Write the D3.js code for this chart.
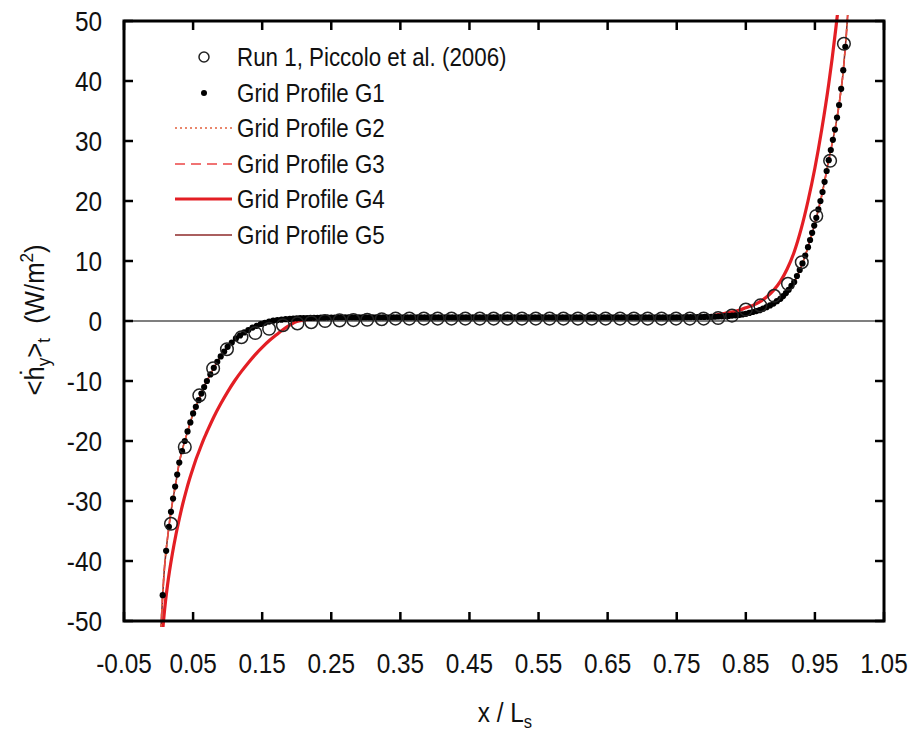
<!DOCTYPE html>
<html><head><meta charset="utf-8">
<script src="https://cdn.jsdelivr.net/npm/d3@7"></script>
<style>body{margin:0;background:#fff}</style>
</head><body>
<script>
// ---------- DATA ----------
const xTickValues = [-0.05,0.05,0.15,0.25,0.35,0.45,0.55,0.65,0.75,0.85,0.95,1.05];
const xTickLabels = ["-0.05","0.05","0.15","0.25","0.35","0.45","0.55","0.65","0.75","0.85","0.95","1.05"];
const yTickValues = [-50,-40,-30,-20,-10,0,10,20,30,40,50];
const yTickLabels = ["-50","-40","-30","-20","-10","0","10","20","30","40","50"];
const seriesNames = ["Run 1, Piccolo et al. (2006)","Grid Profile G1","Grid Profile G2","Grid Profile G3","Grid Profile G4","Grid Profile G5"];

// Run 1, Piccolo et al. (2006) — open circles
const piccoloX = [0.018,0.038,0.059,0.079,0.099,0.120,0.140,0.160,0.180,0.201,0.221,0.241,0.262,0.282,0.302,0.323,0.343,0.363,0.384,0.404,0.424,0.444,0.465,0.485,0.505,0.526,0.546,0.566,0.586,0.607,0.627,0.647,0.668,0.688,0.708,0.728,0.749,0.769,0.789,0.810,0.830,0.850,0.871,0.891,0.911,0.931,0.952,0.972,0.992];
const piccoloY = [-33.8,-21.0,-12.4,-7.9,-4.7,-2.7,-2.0,-1.3,-0.7,-0.4,-0.2,0.0,0.1,0.15,0.2,0.3,0.4,0.4,0.4,0.4,0.4,0.4,0.4,0.4,0.4,0.4,0.4,0.4,0.4,0.4,0.4,0.4,0.4,0.4,0.4,0.4,0.4,0.4,0.4,0.5,0.9,1.9,2.6,4.2,6.2,9.8,17.5,26.7,46.2];

// Grid Profile G1 — filled dots
const g1X = [0.006,0.011,0.015,0.018,0.021,0.024,0.027,0.030,0.034,0.038,0.042,0.046,0.050,0.054,0.058,0.062,0.066,0.070,0.075,0.080,0.085,0.090,0.095,0.100,0.106,0.112,0.118,0.124,0.130,0.136,0.142,0.148,0.154,0.160,0.166,0.172,0.178,0.184,0.190,0.195,
0.200,0.205,0.210,0.215,0.220,0.225,0.230,0.235,0.240,0.245,0.250,0.255,0.260,0.265,0.270,0.275,0.280,0.285,0.290,0.295,
0.300,0.305,0.310,0.315,0.320,0.325,0.330,0.335,0.340,0.345,0.350,0.355,0.360,0.365,0.370,0.375,0.380,0.385,0.390,0.395,
0.400,0.405,0.410,0.415,0.420,0.425,0.430,0.435,0.440,0.445,0.450,0.455,0.460,0.465,0.470,0.475,0.480,0.485,0.490,0.495,
0.500,0.505,0.510,0.515,0.520,0.525,0.530,0.535,0.540,0.545,0.550,0.555,0.560,0.565,0.570,0.575,0.580,0.585,0.590,0.595,
0.600,0.605,0.610,0.615,0.620,0.625,0.630,0.635,0.640,0.645,0.650,0.655,0.660,0.665,0.670,0.675,0.680,0.685,0.690,0.695,
0.700,0.705,0.710,0.715,0.720,0.725,0.730,0.735,0.740,0.745,0.750,0.755,0.760,0.765,0.770,0.775,0.780,0.785,0.790,0.795,
0.800,0.805,0.810,0.815,0.820,0.825,0.830,0.835,0.840,0.845,0.850,0.855,0.860,0.865,0.870,0.875,0.880,0.885,0.890,0.895,
0.900,0.904,0.908,0.912,0.916,0.920,0.924,0.928,0.932,0.936,0.940,0.943,0.946,0.949,0.952,0.955,0.958,0.961,0.964,0.967,
0.970,0.973,0.976,0.979,0.982,0.985,0.988,0.991,0.994];
const g1Y = [-45.7,-38.3,-34.3,-31.8,-29.6,-27.6,-25.6,-23.6,-21.7,-20.0,-18.4,-16.9,-15.4,-14.3,-13.2,-12.1,-11.0,-10.0,-8.9,-7.8,-6.8,-5.9,-5.1,-4.3,-3.6,-2.9,-2.4,-1.9,-1.5,-1.1,-0.8,-0.5,-0.3,-0.1,0.05,0.15,0.22,0.3,0.35,0.4,
0.45,0.47,0.49,0.50,0.52,0.53,0.54,0.55,0.56,0.57,0.58,0.58,0.58,0.59,0.59,0.59,0.59,0.6,0.6,0.6,
0.6,0.6,0.6,0.6,0.6,0.6,0.6,0.6,0.6,0.6,0.6,0.6,0.6,0.6,0.6,0.6,0.6,0.6,0.6,0.6,
0.6,0.6,0.6,0.6,0.6,0.6,0.6,0.6,0.6,0.6,0.6,0.6,0.6,0.6,0.6,0.6,0.6,0.6,0.6,0.6,
0.6,0.6,0.6,0.6,0.6,0.6,0.6,0.6,0.6,0.6,0.6,0.6,0.6,0.6,0.6,0.6,0.6,0.6,0.6,0.6,
0.6,0.6,0.6,0.6,0.6,0.6,0.6,0.6,0.6,0.6,0.6,0.6,0.6,0.6,0.6,0.6,0.6,0.6,0.6,0.6,
0.6,0.6,0.6,0.6,0.6,0.6,0.6,0.6,0.6,0.6,0.6,0.61,0.62,0.63,0.64,0.65,0.66,0.67,0.68,0.69,
0.70,0.72,0.75,0.78,0.80,0.85,0.90,0.95,1.00,1.10,1.20,1.35,1.50,1.65,1.80,2.05,2.30,2.60,2.90,3.30,
3.70,4.15,4.65,5.2,5.85,6.5,7.5,8.5,9.6,10.9,12.3,13.5,14.7,15.9,17.2,18.6,20.0,21.5,23.2,25.0,
26.8,28.5,30.2,31.9,33.9,36.0,38.7,41.8,45.7];

// Grid profiles G2..G5 — lines
const lineX = [0.002,0.004,0.006,0.008,0.010,0.013,0.016,0.020,0.025,0.030,0.035,0.040,0.045,0.050,0.055,0.060,0.065,0.070,0.080,0.090,0.100,0.110,0.120,0.130,0.140,0.150,0.160,0.170,0.180,0.190,0.200,0.220,0.250,0.300,0.350,0.400,0.450,0.500,0.550,0.600,0.650,0.700,0.750,0.780,0.800,0.820,0.840,0.850,0.860,0.870,0.880,0.890,0.900,0.910,0.920,0.930,0.940,0.950,0.960,0.970,0.975,0.980,0.984,0.988,0.990,0.993,0.995,0.998];
const g2Y = [-55,-50,-45.7,-42,-39.3,-36.2,-33.4,-30.3,-27.0,-23.6,-21.2,-19.2,-17.3,-15.4,-14.0,-12.6,-11.2,-10.0,-7.8,-5.9,-4.3,-3.1,-2.2,-1.5,-0.9,-0.45,-0.1,0.1,0.25,0.35,0.45,0.52,0.58,0.6,0.6,0.6,0.6,0.6,0.6,0.6,0.6,0.6,0.6,0.65,0.7,0.8,1.0,1.2,1.5,1.8,2.3,2.9,3.7,4.9,6.5,9.0,12.3,16.3,21.0,26.8,29.6,32.5,35.3,38.7,40.5,44.3,47.0,52.0];
const g3Y = [-55,-50,-45.7,-42,-39.3,-36.2,-33.4,-30.3,-27.0,-23.6,-21.2,-19.2,-17.3,-15.4,-14.0,-12.6,-11.2,-10.0,-7.8,-5.9,-4.3,-3.1,-2.2,-1.5,-0.9,-0.45,-0.1,0.1,0.25,0.35,0.45,0.52,0.58,0.6,0.6,0.6,0.6,0.6,0.6,0.6,0.6,0.6,0.6,0.65,0.7,0.8,1.0,1.2,1.5,1.8,2.3,2.9,3.7,4.9,6.5,9.0,12.3,16.3,21.0,26.8,29.6,32.5,35.3,38.7,40.5,44.3,47.0,52.0];
const g4Y = [-59,-54.8,-51.6,-49.0,-46.8,-44.0,-41.6,-38.8,-35.7,-33.0,-30.5,-28.3,-26.3,-24.5,-22.8,-21.3,-19.8,-18.5,-16.0,-13.8,-11.8,-10.0,-8.4,-6.95,-5.6,-4.4,-3.3,-2.35,-1.45,-0.7,-0.1,0.3,0.5,0.58,0.6,0.6,0.6,0.6,0.6,0.6,0.6,0.6,0.6,0.7,0.9,1.3,1.8,2.2,2.6,3.2,4.0,5.1,6.6,8.7,11.5,15.3,20.0,25.5,32.0,39.5,43.8,48.5,52.5,57.0,60.0,64.0,67.0,72.0];
const g5Y = [-55,-50,-45.7,-42,-39.3,-36.2,-33.4,-30.3,-27.0,-23.6,-21.2,-19.2,-17.3,-15.4,-14.0,-12.6,-11.2,-10.0,-7.8,-5.9,-4.3,-3.1,-2.2,-1.5,-0.9,-0.45,-0.1,0.1,0.25,0.35,0.45,0.52,0.58,0.6,0.6,0.6,0.6,0.6,0.6,0.6,0.6,0.6,0.6,0.65,0.7,0.8,1.0,1.2,1.5,1.8,2.3,2.9,3.7,4.9,6.5,9.0,12.3,16.3,21.0,26.8,29.6,32.5,35.3,38.7,40.5,44.3,47.0,52.0];

// ---------- CHART ----------
const W = 912, H = 734;
const M = {left:124, right:884, top:21, bottom:621};
const FONT = "'Liberation Sans Narrow','Arial Narrow','Liberation Sans',Arial,sans-serif";
const SQ = 0.87; // horizontal condensation of the narrow Helvetica-like font

const svg = d3.select("body").append("svg").attr("width",W).attr("height",H)
  .style("font-family",FONT);
svg.append("rect").attr("width",W).attr("height",H).attr("fill","#fff");

const x = d3.scaleLinear().domain([-0.05,1.05]).range([M.left,M.right]);
const y = d3.scaleLinear().domain([-50,50]).range([M.bottom,M.top]);

svg.append("defs").append("clipPath").attr("id","clip")
  .append("rect").attr("x",M.left).attr("y",M.top-6).attr("width",M.right-M.left).attr("height",M.bottom-M.top+12);

// zero line
svg.append("line").attr("x1",M.left).attr("x2",M.right).attr("y1",y(0)).attr("y2",y(0))
  .attr("stroke","#000").attr("stroke-width",1.2);

const plot = svg.append("g").attr("clip-path","url(#clip)");
const line = (ys)=> d3.line().x((d,i)=>x(lineX[i])).y((d,i)=>y(ys[i])).curve(d3.curveMonotoneX)(ys);

const styles = {
  G2:{stroke:"#e2603c", width:1.6, dash:"2,3"},
  G3:{stroke:"#ec4646", width:1.6, dash:"10,6"},
  G4:{stroke:"#e31e24", width:3.2, dash:null},
  G5:{stroke:"#8e2a2a", width:1.6, dash:null}
};
plot.append("path").attr("d",line(g4Y)).attr("fill","none")
  .attr("stroke",styles.G4.stroke).attr("stroke-width",styles.G4.width);
plot.append("path").attr("d",line(g5Y)).attr("fill","none")
  .attr("stroke",styles.G5.stroke).attr("stroke-width",styles.G5.width);
plot.append("path").attr("d",line(g3Y)).attr("fill","none")
  .attr("stroke",styles.G3.stroke).attr("stroke-width",styles.G3.width).attr("stroke-dasharray",styles.G3.dash);
plot.append("path").attr("d",line(g2Y)).attr("fill","none")
  .attr("stroke",styles.G2.stroke).attr("stroke-width",styles.G2.width).attr("stroke-dasharray",styles.G2.dash);

// G1 dots
plot.append("g").selectAll("circle").data(g1X).join("circle")
  .attr("cx",(d,i)=>x(g1X[i])).attr("cy",(d,i)=>y(g1Y[i])).attr("r",3.1)
  .attr("fill","#000");

// Piccolo circles
plot.append("g").selectAll("circle").data(piccoloX).join("circle")
  .attr("cx",(d,i)=>x(piccoloX[i])).attr("cy",(d,i)=>y(piccoloY[i])).attr("r",6.3)
  .attr("fill","none").attr("stroke","#222").attr("stroke-width",1.5);

// frame
svg.append("rect").attr("x",M.left).attr("y",M.top).attr("width",M.right-M.left).attr("height",M.bottom-M.top)
  .attr("fill","none").attr("stroke","#000").attr("stroke-width",3);

// ticks (inward on all four sides)
const TL = 9;
const ax = svg.append("g").attr("stroke","#000").attr("stroke-width",2.5);
xTickValues.forEach(v=>{
  ax.append("line").attr("x1",x(v)).attr("x2",x(v)).attr("y1",M.bottom).attr("y2",M.bottom-TL);
  ax.append("line").attr("x1",x(v)).attr("x2",x(v)).attr("y1",M.top).attr("y2",M.top+TL);
});
yTickValues.forEach(v=>{
  ax.append("line").attr("x1",M.left).attr("x2",M.left+TL).attr("y1",y(v)).attr("y2",y(v));
  ax.append("line").attr("x1",M.right).attr("x2",M.right-TL).attr("y1",y(v)).attr("y2",y(v));
});

// tick labels
svg.append("g").selectAll("text").data(xTickValues).join("text")
  .attr("transform",d=>`translate(${x(d)},${M.bottom+52}) scale(${SQ},1)`).attr("text-anchor","middle")
  .attr("font-size",28).attr("fill","#111").text((d,i)=>xTickLabels[i]);
svg.append("g").selectAll("text").data(yTickValues).join("text")
  .attr("transform",d=>`translate(${M.left-22},${y(d)+10}) scale(${SQ},1)`).attr("text-anchor","end")
  .attr("font-size",28).attr("fill","#111").text((d,i)=>yTickLabels[i]);

// axis titles
const xt = svg.append("text").attr("transform",`translate(505,722) scale(${SQ},1)`).attr("text-anchor","middle")
  .attr("font-size",28).attr("fill","#111");
xt.append("tspan").text("x / L");
xt.append("tspan").attr("font-size",19).attr("dy",6).text("s");

const yt = svg.append("text").attr("transform","translate(44,320) rotate(-90) scale(0.95,1)")
  .attr("text-anchor","middle").attr("font-size",27).attr("fill","#111");
yt.append("tspan").text("<ḣ");
yt.append("tspan").attr("font-size",18).attr("dy",6).text("y");
yt.append("tspan").attr("dy",-6).text(">");
yt.append("tspan").attr("font-size",18).attr("dy",6).text("t");
yt.append("tspan").attr("dy",-6).text("\u00a0\u00a0(W/m");
yt.append("tspan").attr("font-size",18).attr("dy",-11).text("2");
yt.append("tspan").attr("dy",11).text(")");

// legend
const legRowY = [57,93,128,164,199,235];
const lg = svg.append("g");
seriesNames.forEach((name,i)=>{
  const ry = legRowY[i];
  if(i===0){
    lg.append("circle").attr("cx",204).attr("cy",ry).attr("r",5).attr("fill","none").attr("stroke","#222").attr("stroke-width",1.5);
  } else if(i===1){
    lg.append("circle").attr("cx",204).attr("cy",ry).attr("r",3).attr("fill","#000");
  } else {
    const s = styles["G"+i];
    lg.append("line").attr("x1",175).attr("x2",232).attr("y1",ry).attr("y2",ry)
      .attr("stroke",s.stroke).attr("stroke-width",s.width).attr("stroke-dasharray",s.dash);
  }
  lg.append("text").attr("transform",`translate(237,${ry+9}) scale(0.86,1)`)
    .attr("font-size",26).attr("fill","#111").text(name);
});
</script>
</body></html>
